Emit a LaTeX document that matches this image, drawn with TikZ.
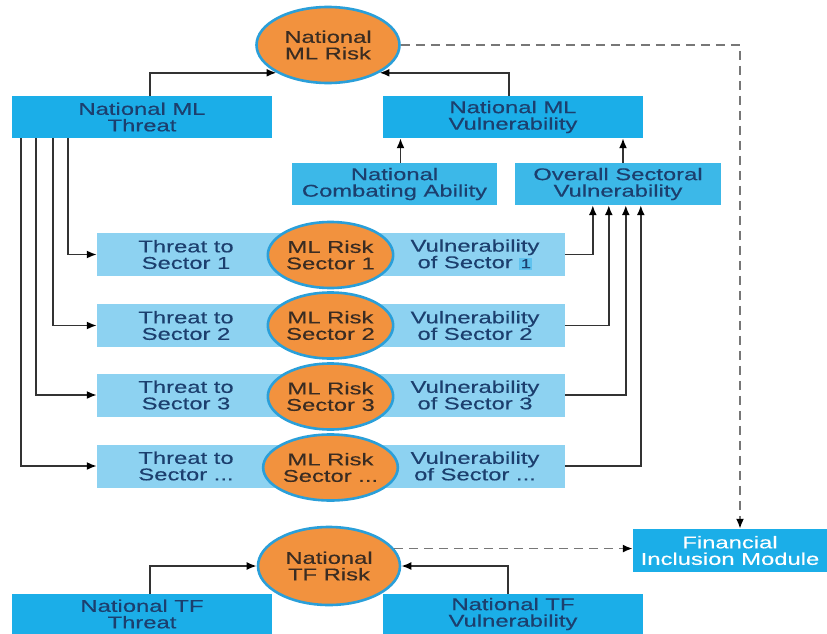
\documentclass[tikz,border=0pt]{standalone}
\usepackage{fontspec}
\setmainfont{Liberation Sans}[FakeStretch=1.4,FakeBold=0.4]
\usetikzlibrary{shapes.geometric,arrows.meta}
\definecolor{boxc}{HTML}{1BAEE8}
\definecolor{boxl}{HTML}{3CB8E8}
\definecolor{barc}{HTML}{8DD2F1}
\definecolor{hilite}{HTML}{5FC2EE}
\definecolor{orng}{HTML}{F2923E}
\definecolor{bord}{HTML}{2A9FD9}
\definecolor{txt}{HTML}{1C3F6E}
\definecolor{rtxt}{HTML}{3A2C22}
\definecolor{lnc}{HTML}{333333}
\definecolor{dsh}{HTML}{777777}
\begin{document}
\begin{tikzpicture}[x=1pt,y=-1pt,
 every node/.style={font=\fontsize{17}{16.5}\selectfont, align=center, inner sep=0pt},
 mainbox/.style={rectangle, fill=boxc, text=txt, minimum height=42pt},
 subbox/.style={rectangle, fill=boxl, text=txt, minimum height=42pt},
 sectorbar/.style={rectangle, fill=barc, minimum width=468pt, minimum height=43pt},
 sectortext/.style={text=txt},
 riskell/.style={ellipse, fill=orng, draw=bord, line width=2.6pt, text=rtxt, inner sep=0pt},
 arr/.style={draw=lnc, line width=1.8pt, -{Latex[length=10pt,width=8pt,color=black]}},
 dsharr/.style={draw=dsh, line width=1.9pt, dash pattern=on 9pt off 6pt, -{Latex[length=10pt,width=8pt,color=black]}}
]
\fill[white] (0,0) rectangle (827,634);
\useasboundingbox (0,0) rectangle (827,634);

% top level
\node[riskell, minimum width=143pt, minimum height=76pt] (mlrisk) at (328,45) {National\\ML Risk};
\node[mainbox, minimum width=260pt] (mlthreat) at (142,117) {National ML\\Threat};
\node[mainbox, minimum width=260pt] (mlvuln) at (513,117) {National ML\\Vulnerability};
\node[subbox, minimum width=205pt] (nca) at (394.5,184) {National\\Combating Ability};
\node[subbox, minimum width=206pt] (ovs) at (618,184) {Overall Sectoral\\Vulnerability};

% sector rows
\node[sectorbar] (bar1) at (331,254.5) {};
\node[sectorbar] (bar2) at (331,325.5) {};
\node[sectorbar] (bar3) at (331,395) {};
\node[sectorbar] (bar4) at (331,466) {};

\node[sectortext] (t1) at (186,254.5) {Threat to\\Sector 1};
\node[sectortext] (t2) at (186,325.5) {Threat to\\Sector 2};
\node[sectortext] (t3) at (186,395) {Threat to\\Sector 3};
\node[sectortext] (t4) at (186,466) {Threat to\\Sector ...};

\node[sectortext] (v1) at (475,254.5) {Vulnerability\\of Sector {\setlength{\fboxsep}{1.5pt}\colorbox{hilite}{\fontsize{13}{13}\selectfont 1}}};
\node[sectortext] (v2) at (475,325.5) {Vulnerability\\of Sector 2};
\node[sectortext] (v3) at (475,395) {Vulnerability\\of Sector 3};
\node[sectortext] (v4) at (475,466) {Vulnerability\\of Sector ...};

\node[riskell, minimum width=125pt, minimum height=66pt] (r1) at (330.5,255) {ML Risk\\Sector 1};
\node[riskell, minimum width=125pt, minimum height=66pt] (r2) at (330.5,325.5) {ML Risk\\Sector 2};
\node[riskell, minimum width=125pt, minimum height=66pt] (r3) at (330.5,396.5) {ML Risk\\Sector 3};
\node[riskell, minimum width=125pt, minimum height=66pt] (r4) at (330.5,467.5) {ML Risk\\Sector ...};

% bottom
\node[mainbox, minimum width=194pt, minimum height=43pt, text=white] (fim) at (730,550.5) {Financial\\Inclusion Module};
\node[riskell, minimum width=142pt, minimum height=78pt] (tfrisk) at (329,566) {National\\TF Risk};
\node[mainbox, minimum width=260pt, minimum height=40pt] (tfthreat) at (142,614) {National TF\\Threat};
\node[mainbox, minimum width=260pt, minimum height=40pt] (tfvuln) at (513,614) {National TF\\Vulnerability};

% connectors top
\draw[arr] ([xshift=138pt]mlthreat.north west) |- (mlrisk.south west);
\draw[arr] ([xshift=-4pt]mlvuln.north) |- (mlrisk.south east);
\draw[arr] ([xshift=6pt]nca.north) -- ([xshift=6pt]nca.north |- mlvuln.south);
\draw[arr] ([xshift=5pt]ovs.north) -- ([xshift=5pt]ovs.north |- mlvuln.south);

% threat to sectors
\draw[arr] ([xshift=56pt]mlthreat.south west) |- (bar1.west);
\draw[arr] ([xshift=41pt]mlthreat.south west) |- (bar2.west);
\draw[arr] ([xshift=24pt]mlthreat.south west) |- (bar3.west);
\draw[arr] ([xshift=9pt]mlthreat.south west) |- (bar4.west);

% sector vulnerabilities
\draw[arr] (bar1.east) -| ([xshift=78pt]ovs.south west);
\draw[arr] (bar2.east) -| ([xshift=94pt]ovs.south west);
\draw[arr] (bar3.east) -| ([xshift=111pt]ovs.south west);
\draw[arr] (bar4.east) -| ([xshift=126pt]ovs.south west);

% dashed
\draw[dsharr] (mlrisk.east) -| ([xshift=10pt]fim.north);
\draw[dsharr] (tfrisk.15) -- (tfrisk.15 -| fim.west);

% TF
\draw[arr] ([xshift=138pt]tfthreat.north west) |- (tfrisk.west);
\draw[arr] ([xshift=-5pt]tfvuln.north) |- (tfrisk.east);
\end{tikzpicture}
\end{document}
